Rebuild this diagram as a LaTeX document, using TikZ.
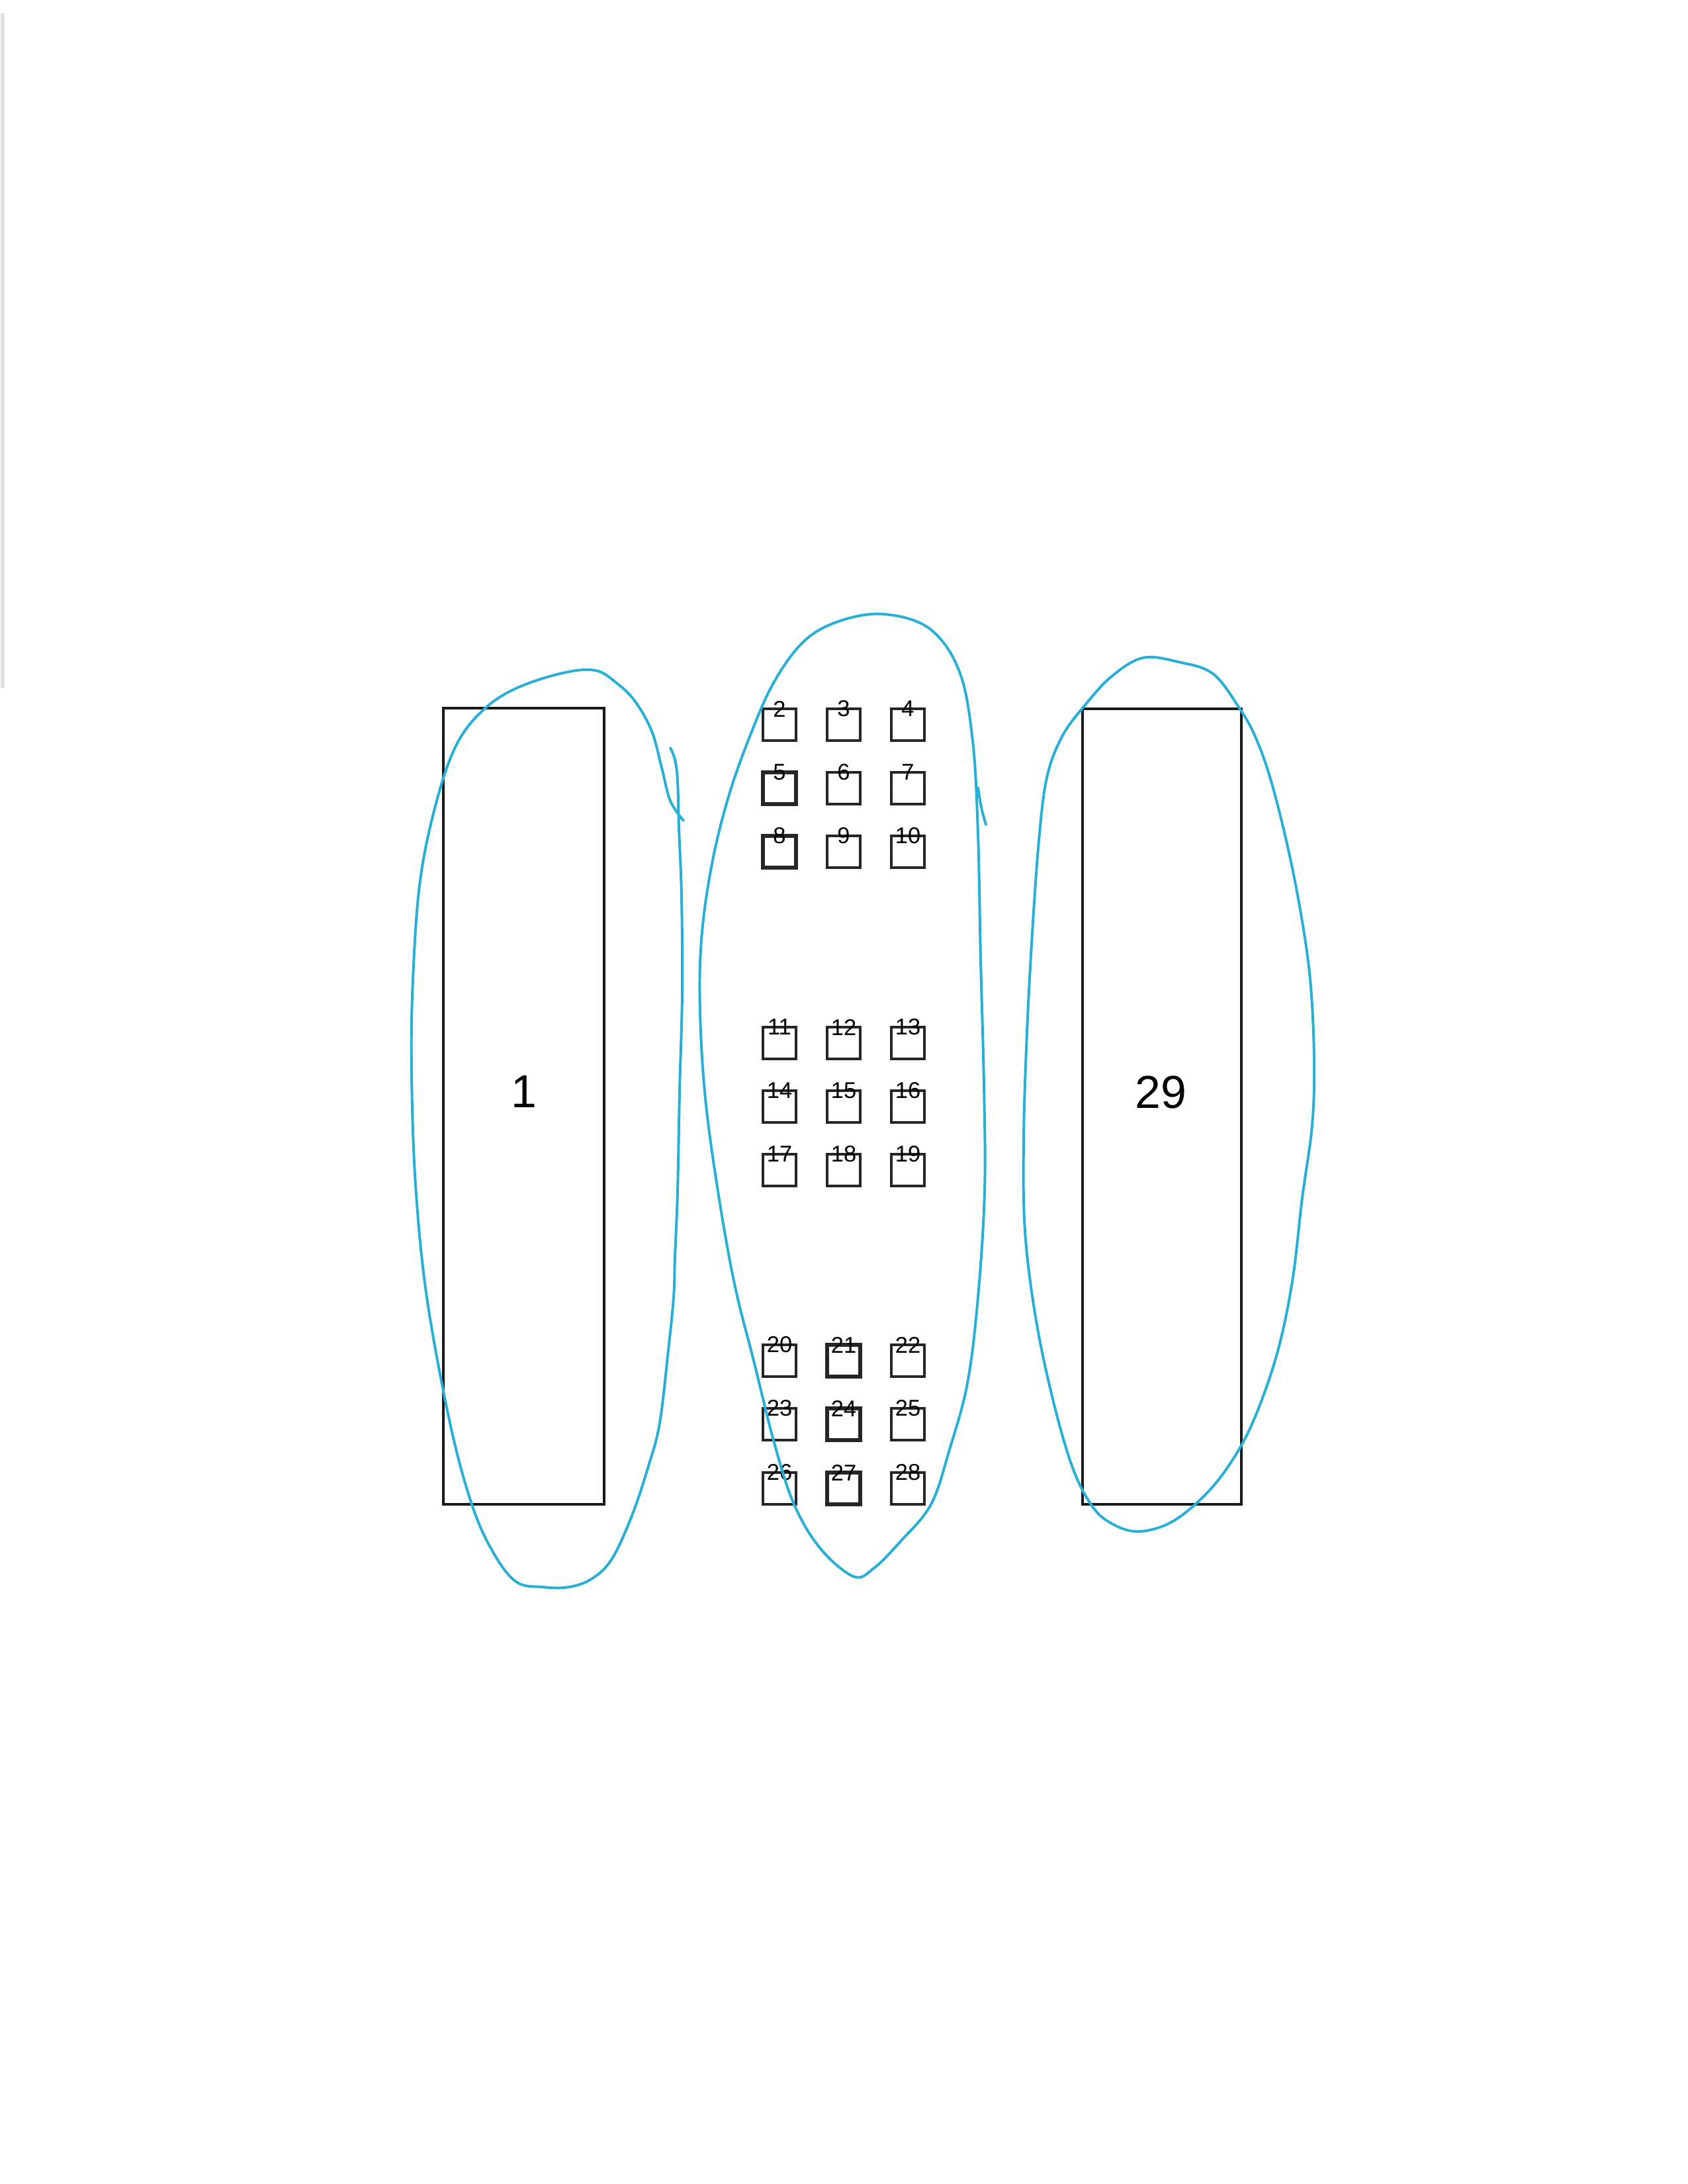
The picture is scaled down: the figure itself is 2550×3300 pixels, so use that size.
\documentclass[tikz,border=0pt]{standalone}
\usepackage{fontspec}
\setmainfont{Liberation Sans}
\definecolor{handblue}{RGB}{40,175,215}
\begin{document}
\begin{tikzpicture}[x=0.24bp,y=-0.24bp,
  sbox/.style={draw=black!85, line width=0.9bp, minimum width=12bp, minimum height=11.5bp, inner sep=0pt, outer sep=0pt},
  sboxb/.style={sbox, line width=1.35bp},
  slab/.style={inner sep=0pt, font=\fontsize{8.3}{9}\selectfont},
  bigbox/.style={draw=black!90, line width=0.8bp, inner sep=0pt, outer sep=0pt},
  biglab/.style={inner sep=0pt, font=\fontsize{16.8}{18}\selectfont},
  hand/.style={draw=handblue, line width=0.95bp, line cap=round, line join=round}]
\useasboundingbox (0,0) rectangle (2550,3300);
% faint scan edge
\draw[black!12, line width=1.2bp] (4,20) -- (4,1040);
% big rectangles
\node[bigbox, minimum width=58.3bp, minimum height=288.7bp] (r1) at (791.5,1671.5) {};
\node[biglab] (t1) at (792,1649) {1};
\node[bigbox, minimum width=57.6bp, minimum height=288.5bp] (r29) at (1756,1672) {};
\node[biglab] (t29) at (1754,1650) {29};
% small boxes
\foreach \n/\x/\y in {2/1178/1095,3/1275/1095,4/1372/1095,
  6/1275/1191,7/1372/1191,
  9/1275/1287,10/1372/1287,
  11/1178/1576,12/1275/1576,13/1372/1576,
  14/1178/1672,15/1275/1672,16/1372/1672,
  17/1178/1768,18/1275/1768,19/1372/1768,
  20/1178/2056,22/1372/2056,
  23/1178/2152,25/1372/2152,
  26/1178/2249,28/1372/2249}{
  \node[sbox] (b\n) at (\x,\y) {};
  \node[slab] (l\n) at (b\n.north) {\n};
}
\foreach \n/\x/\y in {5/1178/1191,8/1178/1287,21/1275/2056,24/1275/2152,27/1275/2249}{
  \node[sboxb] (b\n) at (\x,\y) {};
  \node[slab] (l\n) at (b\n.north) {\n};
}
% hand-drawn loops
\draw[hand] plot[smooth, tension=0.6] coordinates {
 (1033,1240) (1013,1210) (1000,1160) (985,1105) (960,1060) (933,1033) (900,1013)
 (850,1017) (780,1040) (730,1073) (690,1125) (660,1210) (635,1330) (624,1480)
 (622,1620) (628,1790) (645,1960) (680,2150) (713,2273) (745,2345) (780,2390)
 (820,2398) (860,2398) (895,2385) (925,2355) (955,2290) (980,2215) (997,2150)
 (1010,2040) (1018,1960) (1020,1900) (1024,1800) (1027,1650) (1031,1500) (1030,1355)
 (1026,1250) (1024,1180) (1020,1148) (1013,1130)};
\draw[hand] plot[smooth cycle, tension=0.6] coordinates {
 (1336,928) (1270,938) (1216,968) (1170,1030) (1133,1113) (1100,1207) (1075,1310)
 (1060,1420) (1058,1530) (1066,1660) (1085,1800) (1110,1940) (1140,2060) (1170,2180)
 (1200,2273) (1240,2340) (1290,2382) (1320,2370) (1360,2330) (1407,2273) (1435,2190)
 (1462,2090) (1478,1960) (1488,1800) (1487,1640) (1482,1450) (1478,1260) (1470,1120)
 (1450,1015) (1405,950)};
\draw[hand] plot[smooth, tension=0.6] coordinates {(1478,1190) (1483,1220) (1490,1246)};
\draw[hand] plot[smooth cycle, tension=0.6] coordinates {
 (1727,994) (1780,1000) (1833,1018) (1873,1070) (1897,1113) (1920,1177) (1945,1275)
 (1965,1375) (1980,1480) (1986,1600) (1983,1700) (1968,1810) (1953,1936) (1930,2045)
 (1895,2145) (1860,2210) (1820,2260) (1770,2300) (1720,2314) (1680,2302) (1650,2275)
 (1620,2215) (1590,2110) (1565,1990) (1549,1860) (1547,1720) (1552,1560) (1560,1410)
 (1570,1270) (1582,1175) (1605,1113) (1640,1065) (1680,1022)};
\end{tikzpicture}
\end{document}
